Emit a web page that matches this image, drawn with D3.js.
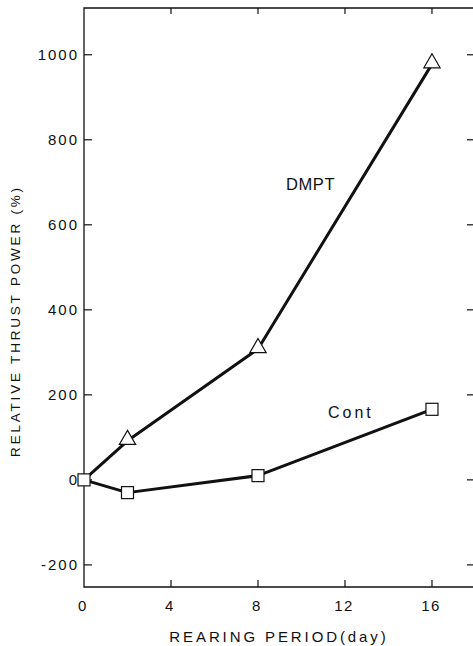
<!DOCTYPE html>
<html>
<head>
<meta charset="utf-8">
<script src="https://cdn.jsdelivr.net/npm/d3@7"></script>
<style>
  body { margin: 0; background: #fff; }
  svg text { font-family: "Liberation Sans", Arial, sans-serif; fill: #111; }
</style>
</head>
<body>
<div id="chart"></div>
<script>
// data
const days = [0, 2, 8, 16];
const dmpt = [0, 92, 308, 978];
const cont = [0, -30, 10, 166];
const xTicks = [0, 4, 8, 12, 16];
const yTicks = [-200, 0, 200, 400, 600, 800, 1000];

const width = 473;
const height = 646;

const svg = d3.select("#chart").append("svg")
  .attr("width", width)
  .attr("height", height);

const x = d3.scaleLinear().domain([0, 17.9]).range([84, 473.3]);
const y = d3.scaleLinear().domain([-252, 1110]).range([587, 8]);

const ink = "#111";

// frame: left and bottom axis lines, top border
svg.append("path")
  .attr("d", `M${x(17.9)},${y(1110)} H${x(0)} V${y(-252)} H${x(17.9)}`)
  .attr("fill", "none")
  .attr("stroke", ink)
  .attr("stroke-width", 1.3);

// y ticks on left (inward), right edge stubs
svg.selectAll(".ytick")
  .data(yTicks)
  .join("line")
  .attr("x1", x(0)).attr("x2", x(0) + 8)
  .attr("y1", d => y(d)).attr("y2", d => y(d))
  .attr("stroke", ink).attr("stroke-width", 1.2);

svg.selectAll(".ytickr")
  .data(yTicks)
  .join("line")
  .attr("x1", width - 6).attr("x2", width)
  .attr("y1", d => y(d)).attr("y2", d => y(d))
  .attr("stroke", ink).attr("stroke-width", 1.2);

svg.selectAll(".ylab")
  .data(yTicks)
  .join("text")
  .attr("x", x(0) - 5)
  .attr("y", d => y(d) + 5.5)
  .attr("text-anchor", "end")
  .style("font-size", "15px")
  .style("letter-spacing", "2px")
  .text(d => d < 0 ? "-" + Math.abs(d) : d);

// x ticks on bottom and top (inward)
svg.selectAll(".xtick")
  .data(xTicks.slice(1))
  .join("line")
  .attr("x1", d => x(d)).attr("x2", d => x(d))
  .attr("y1", y(-252)).attr("y2", y(-252) - 7)
  .attr("stroke", ink).attr("stroke-width", 1.2);

svg.selectAll(".xtickt")
  .data(xTicks.slice(1))
  .join("line")
  .attr("x1", d => x(d)).attr("x2", d => x(d))
  .attr("y1", y(1110)).attr("y2", y(1110) + 6)
  .attr("stroke", ink).attr("stroke-width", 1.2);

svg.selectAll(".xlab")
  .data(xTicks)
  .join("text")
  .attr("x", d => x(d) - 1)
  .attr("y", y(-252) + 24)
  .attr("text-anchor", "middle")
  .style("font-size", "15px")
  .style("letter-spacing", "1.5px")
  .text(d => d);

// axis titles
svg.append("text")
  .attr("x", 279)
  .attr("y", 642)
  .attr("text-anchor", "middle")
  .style("font-size", "15px")
  .style("letter-spacing", "2.9px")
  .text("REARING PERIOD(day)");

svg.append("text")
  .attr("transform", "translate(20,321) rotate(-90)")
  .attr("text-anchor", "middle")
  .style("font-size", "13.5px")
  .style("letter-spacing", "2.8px")
  .text("RELATIVE THRUST POWER (%)");

// lines
const line = d3.line().x((d, i) => x(days[i])).y(d => y(d));

[dmpt, cont].forEach(s => {
  svg.append("path")
    .datum(s)
    .attr("d", line)
    .attr("fill", "none")
    .attr("stroke", ink)
    .attr("stroke-width", 3)
    .attr("stroke-linejoin", "round");
});

// markers
const tri = d3.symbol().type(d3.symbolTriangle).size(115);
svg.selectAll(".tri")
  .data(dmpt)
  .join("path")
  .filter((d, i) => i > 0)
  .attr("d", tri)
  .attr("transform", (d, i) => `translate(${x(days[i + 1])},${y(d) - 1})`)
  .attr("fill", "#fff")
  .attr("stroke", ink)
  .attr("stroke-width", 1.2);

svg.selectAll(".sq")
  .data(cont)
  .join("rect")
  .attr("x", (d, i) => x(days[i]) - 6)
  .attr("y", d => y(d) - 6)
  .attr("width", 12)
  .attr("height", 12)
  .attr("fill", "#fff")
  .attr("stroke", ink)
  .attr("stroke-width", 1.2);

// series labels
svg.append("text")
  .attr("x", 286).attr("y", 190)
  .style("font-size", "16.5px")
  .style("letter-spacing", "0.6px")
  .text("DMPT");

svg.append("text")
  .attr("x", 328).attr("y", 418)
  .style("font-size", "16px")
  .style("letter-spacing", "3px")
  .text("Cont");
</script>
</body>
</html>
